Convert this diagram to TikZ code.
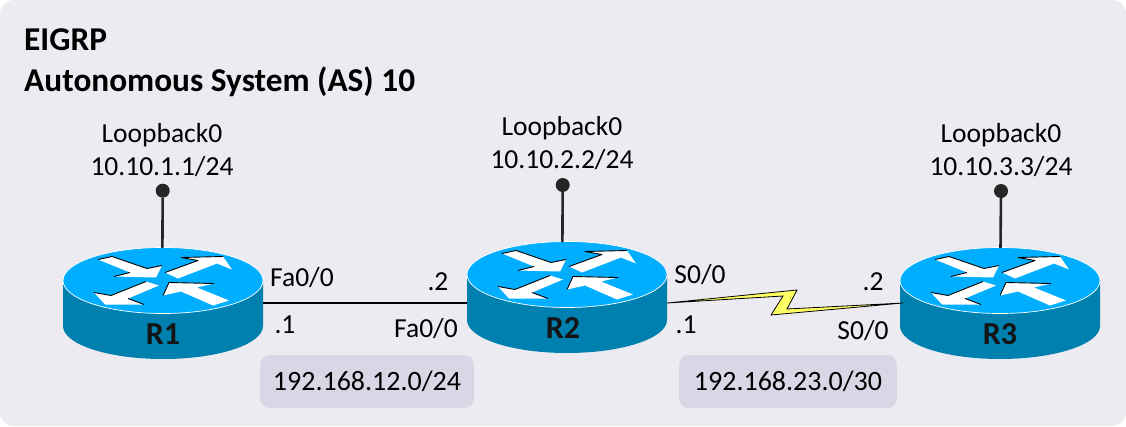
\documentclass[tikz,border=0pt]{standalone}
\usepackage{fontspec}
\setmainfont{Carlito}
\definecolor{panel}{HTML}{EDEBF2}
\definecolor{netbox}{HTML}{DAD6E5}
\definecolor{rtop}{HTML}{00AEFF}
\definecolor{rside}{HTML}{0080AE}
\definecolor{bolt}{HTML}{FFFF66}
\definecolor{ink}{HTML}{262626}
\tikzset{
  x=1pt,y=-1pt,
  lbl/.style={font=\fontsize{27.5}{27.5}\selectfont,text=black,inner sep=0pt,anchor=center},
  ttl/.style={font=\fontsize{33.3}{33.3}\selectfont\bfseries,text=black,inner sep=0pt,anchor=west},
  rname/.style={font=\fontsize{32}{32}\selectfont\bfseries,text=black!92,inner sep=0pt,anchor=center},
  netlabel/.style={lbl,font=\fontsize{28}{28}\selectfont,fill=netbox,rounded corners=10pt,minimum height=53pt},
  rbox/.style={inner sep=0pt,minimum height=111pt,anchor=center},
  pinline/.style={draw=ink,line width=2.6pt},
  pindot/.style={circle,fill=ink,inner sep=0pt,minimum size=14pt},
  arrowfill/.style={fill=white,draw=none},
  arrowedge/.style={draw=black,line width=0.9pt,line join=round},
  router/.pic={
    \fill[rside] (-100,0) -- (-100,45.5) arc[start angle=180,end angle=0,x radius=100,y radius=33] -- (100,0) -- cycle;
    \fill[rtop,draw=white,line width=0.7pt] (0,0) ellipse[x radius=100,y radius=33];
    \fill[arrowfill] (-65,-21) -- (-51,-24) -- (-16,-12) -- (-1,-15) -- (-7,-3) -- (-49,-4) -- (-33,-8) -- cycle;
    \draw[arrowedge] (-65,-21) -- (-51,-24) -- (-16,-12) -- (-1,-15);
    \draw[arrowedge] (-49,-4) -- (-33,-8);
    \fill[arrowfill] (2,-8) -- (35,-20) -- (18,-23) -- (60,-24) -- (69,-11) -- (54,-17) -- (15,-2) -- cycle;
    \draw[arrowedge] (2,-8) -- (35,-20) -- (18,-23) -- (60,-24);
    \fill[arrowfill] (-4,5) -- (-17,1) -- (-52,15) -- (-69,12) -- (-58,24) -- (-19,24) -- (-35,18) -- cycle;
    \draw[arrowedge] (-17,1) -- (-52,15) -- (-69,12);
    \draw[arrowedge] (-19,24) -- (-35,18);
    \fill[arrowfill] (0,15) -- (6,2) -- (51,3) -- (34,7) -- (66,20) -- (50,25) -- (18,11) -- cycle;
    \draw[arrowedge] (0,15) -- (6,2) -- (51,3);
  }
}
\begin{document}
\begin{tikzpicture}
\useasboundingbox (0,0) rectangle (1126,426);
\fill[white] (0,0) rectangle (1126,426);
\fill[panel] (0,0) [rounded corners=14pt] rectangle (1126,426);

\node[ttl] (title1) at (24,40) {EIGRP};
\node[ttl] (title2) at (24,82) {Autonomous System (AS) 10};

% routers
\pic at (163,280.5) {router};
\pic at (567,274.5) {router};
\pic at (1000,280.5) {router};
\node[rbox,minimum width=200pt] (R1) at (163,303) {};
\node[rbox,minimum width=200pt] (R2) at (567,303) {};
\node[rbox,minimum width=194pt] (R3) at (1000,303) {};
\node[rname] (R1name) at (163,334) {R1};
\node[rname] (R2name) at (563,328) {R2};
\node[rname] (R3name) at (1000,334) {R3};

% pins
\node[pindot] (pin1) at (162.7,190.7) {};
\node[pindot] (pin2) at (562.7,185) {};
\node[pindot] (pin3) at (1001,191) {};
\coordinate (pin1end) at (162.4,248);
\coordinate (pin2end) at (562.4,242);
\coordinate (pin3end) at (1000.5,248);
\draw[pinline] (pin1) -- (pin1end);
\draw[pinline] (pin2) -- (pin2end);
\draw[pinline] (pin3) -- (pin3end);

% links
\draw[black,line width=2.4pt] (R1.east) -- (R2.west);
\coordinate (boltA) at (797,290);
\coordinate (boltB) at (787,309);
\coordinate (boltC) at (771,315);
\coordinate (boltD) at (783,296);
\draw[black,fill=bolt,line width=0.8pt,line join=miter] (R2.east) -- (boltA) -- (boltB) -- (R3.west) -- (boltC) -- (boltD) -- cycle;

% labels
\node[lbl] (lb1a) at (162,135) {Loopback0};
\node[lbl] (lb1b) at (162,167) {10.10.1.1/24};
\node[lbl] (lb2a) at (562,128) {Loopback0};
\node[lbl] (lb2b) at (562,160) {10.10.2.2/24};
\node[lbl] (lb3a) at (1001,135) {Loopback0};
\node[lbl] (lb3b) at (1001,167) {10.10.3.3/24};

\node[lbl] (fa1) at (302,278) {Fa0/0};
\node[lbl] (d1) at (285,325) {.1};
\node[lbl] (d2) at (438,282) {.2};
\node[lbl] (fa2) at (426,329) {Fa0/0};
\node[lbl] (s1) at (700,275) {S0/0};
\node[lbl] (d3) at (686,325) {.1};
\node[lbl] (d4) at (873,282) {.2};
\node[lbl] (s2) at (863,331) {S0/0};

\node[netlabel,minimum width=214pt] (net1) at (367,381.5) {192.168.12.0/24};
\node[netlabel,minimum width=218pt] (net2) at (788,381.5) {192.168.23.0/30};
\end{tikzpicture}
\end{document}
